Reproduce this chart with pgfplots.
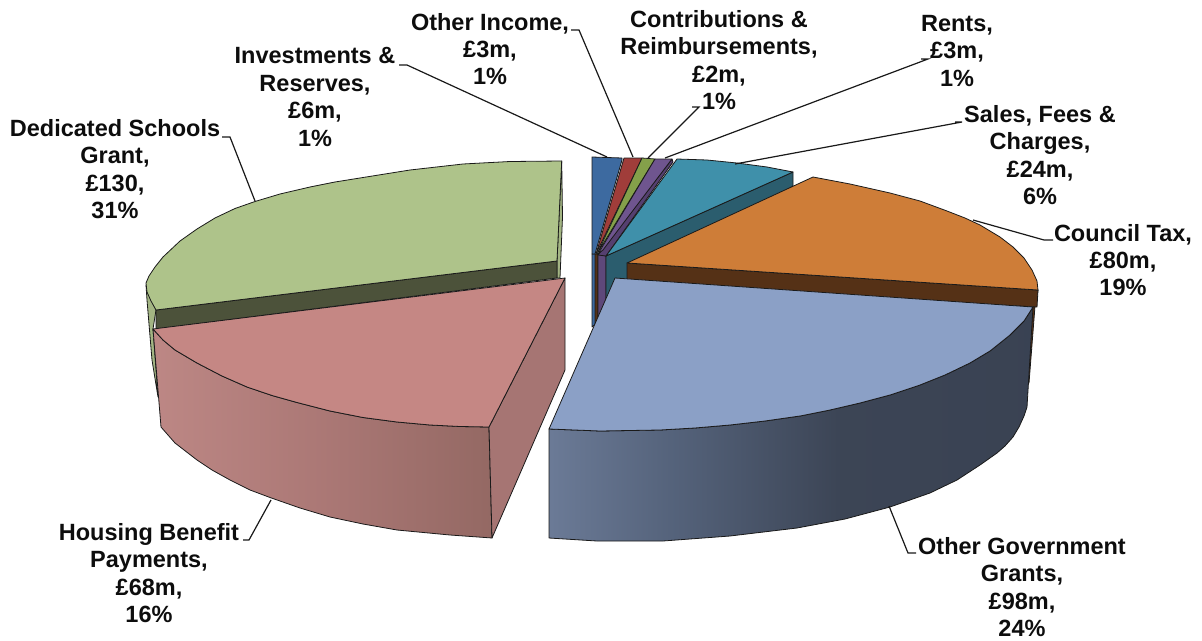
\documentclass[border=0pt]{standalone}
\usepackage{pgfplots}
\pgfplotsset{compat=1.18}
\usepackage{fontspec}
\setmainfont{Liberation Sans}
\definecolor{gTop}{HTML}{AEC38A}
\definecolor{gDark}{HTML}{4C523A}
\definecolor{gSide}{HTML}{A3B583}
\definecolor{pTop}{HTML}{C58784}
\definecolor{pFace}{HTML}{A67573}
\definecolor{bTop}{HTML}{8BA0C6}
\definecolor{oTop}{HTML}{CE7D38}
\definecolor{oDark}{HTML}{553116}
\definecolor{tTop}{HTML}{3F90AA}
\definecolor{tDark}{HTML}{2B5D6E}
\definecolor{sBlue}{HTML}{3D6AA0}
\definecolor{sRed}{HTML}{A03D3A}
\definecolor{sGreen}{HTML}{84A04A}
\definecolor{sPurple}{HTML}{6F558F}
\definecolor{dPurple}{HTML}{553F70}
\definecolor{edge}{HTML}{1A1A1A}
\pgfdeclarehorizontalshading{blueside}{100bp}{
 rgb(0bp)=(0.42,0.48,0.59);
 rgb(25bp)=(0.42,0.48,0.59);
 rgb(38bp)=(0.33,0.385,0.48);
 rgb(55bp)=(0.235,0.27,0.335);
 rgb(75bp)=(0.225,0.26,0.325);
 rgb(100bp)=(0.225,0.26,0.325)}
\pgfdeclarehorizontalshading{pinkside}{100bp}{
 rgb(0bp)=(0.74,0.53,0.52);
 rgb(25bp)=(0.74,0.53,0.52);
 rgb(50bp)=(0.67,0.47,0.46);
 rgb(75bp)=(0.58,0.41,0.39);
 rgb(100bp)=(0.58,0.41,0.39)}
\tikzset{face/.style={draw=edge,line width=0.8pt,line join=round},
 lead/.style={draw=black!90,line width=1.2pt},
 lab/.style={align=center,anchor=center,inner sep=0pt,font=\fontsize{23.5}{27.4}\selectfont\bfseries,text=black!95}}
\begin{document}
\begin{tikzpicture}
\begin{axis}[hide axis,scale only axis,width=1202pt,height=640pt,xmin=0,xmax=1202,ymin=0,ymax=640,y dir=reverse,clip=false]
\addplot[draw=none] coordinates {(0,0)(1202,640)};
% small slices, vertical walls
\addplot[face,fill=sBlue] coordinates {(592,254)(598,254)(598,322)(592,327)} -- cycle;
\addplot[face,fill=oDark] coordinates {(595,254)(598,254)(598,322)(595,325)} -- cycle;
\addplot[face,fill=sPurple!85!black] coordinates {(598,254)(606,256)(606,300)(598,320)} -- cycle;
\addplot[face,fill=tDark] coordinates {(606,256)(793,172)(793,186)(606,300)} -- cycle;
% small slices, tops
\addplot[face,fill=sBlue] coordinates {(592,157)(622,158)(622,160)(595,254)(592,254)} -- cycle;
\addplot[face,fill=sRed] coordinates {(624,158)(642,158)(596,254)} -- cycle;
\addplot[face,fill=sGreen] coordinates {(642,158)(655,159)(597,254)} -- cycle;
\addplot[face,fill=dPurple] coordinates {(672,159)(673,162)(606,256)(598,255)} -- cycle;
\addplot[face,fill=sPurple] coordinates {(655,159)(672,159)(603,250)(598,254)} -- cycle;
\addplot[face,fill=tTop] coordinates {(677,159)(707,160)(737,163)(767,167)(793,172)(606,256)} -- cycle;
% orange
\addplot[face,fill=oDark] coordinates {(1038,290)(1035,306)(1029,383)(1027,383)(1030,300)} -- cycle;
\addplot[face,fill=oDark] coordinates {(627,263)(1038,290)(1037,307)(627,285)} -- cycle;
\addplot[face,fill=oTop] coordinates {(813,177)(850,184)(890,193)(920,201)(947,211)(965,218)(980,225)(1000,237)(1013,247)(1024,258)(1032,270)(1037,281)(1038,290)(627,263)} -- cycle;
% green
\addplot[face,fill=gSide] coordinates {(146,285)(156,310)(153,329)(158,397)(152,360)(147,300)} -- cycle;
\addplot[face,fill=gSide] coordinates {(561.7,161)(562.5,217)(560,278)(557,278)(557,261)} -- cycle;
\addplot[face,fill=gDark] coordinates {(156,310)(557,261)(557,278)(156,329)} -- cycle;
\addplot[face,fill=gTop] coordinates {(561.7,161)(510,161.5)(463,164)(410,170)(363,177.5)(335,182)(310,187)(280,194)(255,201.5)(235,208.5)(215,218)(197,229)(180,241)(163,257)(155,267)(149,276)(146,283)(147,292)(151,301)(156,310)(557,261)} -- cycle;
% pink
\addplot[face,shade,shading=pinkside] coordinates {(153,329)(163,340)(175,350)(197,363)(222,376)(247,387)(272,395.5)(297,402.5)(330,411)(363,417.5)(397,422)(430,425)(460,426.5)(489,427)(492,538)(450,535)(397,530)(363,524)(330,517)(300,508)(270,497.5)(250,490)(230,480)(212,470)(197,460)(175,443)(161,427)} -- cycle;
\addplot[face,fill=pFace] coordinates {(489,427)(492,538)(565,370)(565,278)} -- cycle;
\addplot[face,fill=pTop] coordinates {(153,329)(565,278)(489,427)(460,426.5)(430,425)(397,422)(363,417.5)(330,411)(297,402.5)(272,395.5)(247,387)(222,376)(197,363)(175,350)(163,340)} -- cycle;
% blue
\addplot[face,shade,shading=blueside] coordinates {(549,429)(600,431)(660,430)(695,428)(730,425)(765,421)(800,416)(830,410)(860,403)(890,395)(920,385)(945,375)(970,363)(990,351)(1010,335)(1024,321)(1033,307)(1027,407)(1024,416)(1019,427)(1013,437)(1005,446)(997,453)(980,465)(957,480)(930,493)(890,507)(845,519)(797,528)(730,536)(663,541)(597,541)(549,538)} -- cycle;
\addplot[face,fill=bTop] coordinates {(615,278)(1033,307)(1024,321)(1010,335)(990,351)(970,363)(945,375)(920,385)(890,395)(860,403)(830,410)(800,416)(765,421)(730,425)(695,428)(660,430)(600,431)(549,429)} -- cycle;
% leaders
\addplot[lead] coordinates {(399,65)(407,65)(607,157)};
\addplot[lead] coordinates {(571,30)(579,30)(633,157)};
\addplot[lead] coordinates {(692,107)(699,107)(648,158)};
\addplot[lead] coordinates {(921,59)(928,59)(665,158)};
\addplot[lead] coordinates {(955,122)(962,122)(735,164)};
\addplot[lead] coordinates {(973,220)(1044,240)(1053,240)};
\addplot[lead] coordinates {(889,506)(908,553)(916,553)};
\addplot[lead] coordinates {(243,540)(249,540)(271,500)};
\addplot[lead] coordinates {(222,137)(230,137)(255,201)};
% labels
\node[lab] at (axis cs:490,49) {Other Income,\\£3m,\\1\%};
\node[lab] at (axis cs:315,97) {Investments \&\\Reserves,\\£6m,\\1\%};
\node[lab] at (axis cs:719,60) {Contributions \&\\Reimbursements,\\£2m,\\1\%};
\node[lab] at (axis cs:957,51) {Rents,\\£3m,\\1\%};
\node[lab] at (axis cs:1040,155) {Sales, Fees \&\\Charges,\\£24m,\\6\%};
\node[lab] at (axis cs:1123,260) {Council Tax,\\£80m,\\19\%};
\node[lab] at (axis cs:1022,587) {Other Government\\Grants,\\£98m,\\24\%};
\node[lab] at (axis cs:149,573) {Housing Benefit\\Payments,\\£68m,\\16\%};
\node[lab] at (axis cs:115,169) {Dedicated Schools\\Grant,\\£130,\\31\%};
\end{axis}
\end{tikzpicture}
\end{document}
